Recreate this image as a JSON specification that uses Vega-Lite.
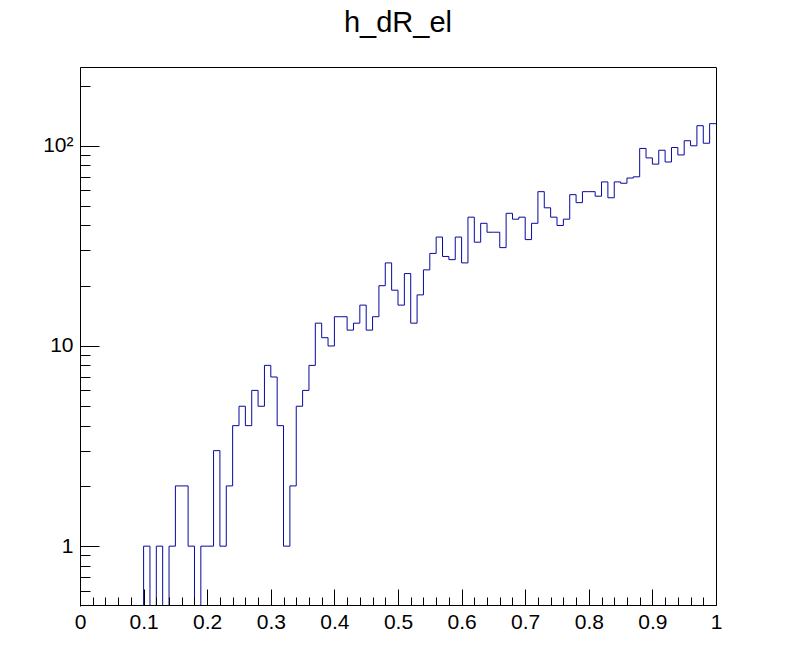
{
  "$schema": "https://vega.github.io/schema/vega-lite/v6.json",
  "width": 636,
  "height": 538,
  "autosize": {"type": "none"},
  "padding": {"left": 80, "top": 67, "right": 80, "bottom": 67},
  "background": "white",
  "title": {
    "text": "h_dR_el",
    "font": "Liberation Sans",
    "fontSize": 29,
    "fontWeight": "normal",
    "color": "black",
    "anchor": "middle",
    "baseline": "alphabetic",
    "offset": 6
  },
  "data": {
    "values": [
      {"x": 0.00, "n": 0}, {"x": 0.01, "n": 0}, {"x": 0.02, "n": 0}, {"x": 0.03, "n": 0}, {"x": 0.04, "n": 0},
      {"x": 0.05, "n": 0}, {"x": 0.06, "n": 0}, {"x": 0.07, "n": 0}, {"x": 0.08, "n": 0}, {"x": 0.09, "n": 0},
      {"x": 0.10, "n": 1}, {"x": 0.11, "n": 0}, {"x": 0.12, "n": 1}, {"x": 0.13, "n": 0}, {"x": 0.14, "n": 1},
      {"x": 0.15, "n": 2}, {"x": 0.16, "n": 2}, {"x": 0.17, "n": 1}, {"x": 0.18, "n": 0}, {"x": 0.19, "n": 1},
      {"x": 0.20, "n": 1}, {"x": 0.21, "n": 3}, {"x": 0.22, "n": 1}, {"x": 0.23, "n": 2}, {"x": 0.24, "n": 4},
      {"x": 0.25, "n": 5}, {"x": 0.26, "n": 4}, {"x": 0.27, "n": 6}, {"x": 0.28, "n": 5}, {"x": 0.29, "n": 8},
      {"x": 0.30, "n": 7}, {"x": 0.31, "n": 4}, {"x": 0.32, "n": 1}, {"x": 0.33, "n": 2}, {"x": 0.34, "n": 5},
      {"x": 0.35, "n": 6}, {"x": 0.36, "n": 8}, {"x": 0.37, "n": 13}, {"x": 0.38, "n": 11}, {"x": 0.39, "n": 10},
      {"x": 0.40, "n": 14}, {"x": 0.41, "n": 14}, {"x": 0.42, "n": 12}, {"x": 0.43, "n": 13}, {"x": 0.44, "n": 16},
      {"x": 0.45, "n": 12}, {"x": 0.46, "n": 14}, {"x": 0.47, "n": 20}, {"x": 0.48, "n": 26}, {"x": 0.49, "n": 19},
      {"x": 0.50, "n": 16}, {"x": 0.51, "n": 23}, {"x": 0.52, "n": 13}, {"x": 0.53, "n": 18}, {"x": 0.54, "n": 24},
      {"x": 0.55, "n": 29}, {"x": 0.56, "n": 35}, {"x": 0.57, "n": 28}, {"x": 0.58, "n": 27}, {"x": 0.59, "n": 35},
      {"x": 0.60, "n": 26}, {"x": 0.61, "n": 44}, {"x": 0.62, "n": 33}, {"x": 0.63, "n": 41}, {"x": 0.64, "n": 37},
      {"x": 0.65, "n": 37}, {"x": 0.66, "n": 31}, {"x": 0.67, "n": 46}, {"x": 0.68, "n": 43}, {"x": 0.69, "n": 44},
      {"x": 0.70, "n": 34}, {"x": 0.71, "n": 41}, {"x": 0.72, "n": 59}, {"x": 0.73, "n": 49}, {"x": 0.74, "n": 44},
      {"x": 0.75, "n": 40}, {"x": 0.76, "n": 43}, {"x": 0.77, "n": 57}, {"x": 0.78, "n": 52}, {"x": 0.79, "n": 59},
      {"x": 0.80, "n": 59}, {"x": 0.81, "n": 56}, {"x": 0.82, "n": 66}, {"x": 0.83, "n": 55}, {"x": 0.84, "n": 66},
      {"x": 0.85, "n": 65}, {"x": 0.86, "n": 69}, {"x": 0.87, "n": 70}, {"x": 0.88, "n": 97}, {"x": 0.89, "n": 87},
      {"x": 0.90, "n": 81}, {"x": 0.91, "n": 95}, {"x": 0.92, "n": 83}, {"x": 0.93, "n": 98}, {"x": 0.94, "n": 90},
      {"x": 0.95, "n": 106}, {"x": 0.96, "n": 100}, {"x": 0.97, "n": 126}, {"x": 0.98, "n": 103}, {"x": 0.99, "n": 129},
      {"x": 1.00, "n": 129}
    ]
  },
  "layer": [
    {
      "mark": {"type": "line", "interpolate": "step-after", "color": "#0808a0", "strokeWidth": 1, "invalid": "show", "clip": true},
      "encoding": {
        "x": {
          "field": "x", "type": "quantitative",
          "scale": {"domain": [0, 1], "nice": false, "zero": false},
          "axis": {
            "title": null, "orient": "bottom",
            "values": [0, 0.1, 0.2, 0.3, 0.4, 0.5, 0.6, 0.7, 0.8, 0.9, 1],
            "labelExpr": "datum.value == 0 ? '0' : datum.value == 1 ? '1' : format(datum.value, '.1f')",
            "tickSize": -16, "labelPadding": 22, "labelFlush": false, "labelOverlap": false,
            "zindex": 1
          }
        },
        "y": {
          "field": "n", "type": "quantitative",
          "scale": {"type": "log", "domain": [0.5025, 247.5], "range": [539, 0], "nice": false, "clamp": true},
          "axis": {
            "title": null, "orient": "left",
            "values": [1, 10, 100],
            "labelExpr": "datum.value == 100 ? '10²' : datum.label",
            "tickSize": -19, "labelPadding": 26, "labelFlush": false, "labelOverlap": false,
            "zindex": 1
          }
        }
      }
    },
    {
      "mark": {"type": "line", "interpolate": "step-after", "strokeOpacity": 0, "invalid": "show"},
      "encoding": {
        "x": {
          "field": "x", "type": "quantitative",
          "axis": {
            "title": null, "orient": "bottom", "labels": false, "domain": false,
            "values": [0.02, 0.04, 0.06, 0.08, 0.12, 0.14, 0.16, 0.18, 0.22, 0.24, 0.26, 0.28, 0.32, 0.34, 0.36, 0.38, 0.42, 0.44, 0.46, 0.48, 0.52, 0.54, 0.56, 0.58, 0.62, 0.64, 0.66, 0.68, 0.72, 0.74, 0.76, 0.78, 0.82, 0.84, 0.86, 0.88, 0.92, 0.94, 0.96, 0.98],
            "tickSize": -8, "zindex": 1
          }
        },
        "y": {
          "field": "n", "type": "quantitative",
          "axis": {
            "title": null, "orient": "left", "labels": false, "domain": false,
            "values": [0.6, 0.7, 0.8, 0.9, 2, 3, 4, 5, 6, 7, 8, 9, 20, 30, 40, 50, 60, 70, 80, 90, 200],
            "tickSize": -10, "zindex": 1
          }
        }
      }
    }
  ],
  "resolve": {"axis": {"x": "independent", "y": "independent"}},
  "config": {
    "view": {"stroke": "black", "strokeWidth": 1},
    "axis": {
      "grid": false,
      "domainColor": "black",
      "tickColor": "black",
      "domainWidth": 1,
      "tickWidth": 1,
      "labelFont": "Liberation Sans",
      "labelFontSize": 21,
      "labelColor": "black",
      "ticks": true
    }
  }
}
